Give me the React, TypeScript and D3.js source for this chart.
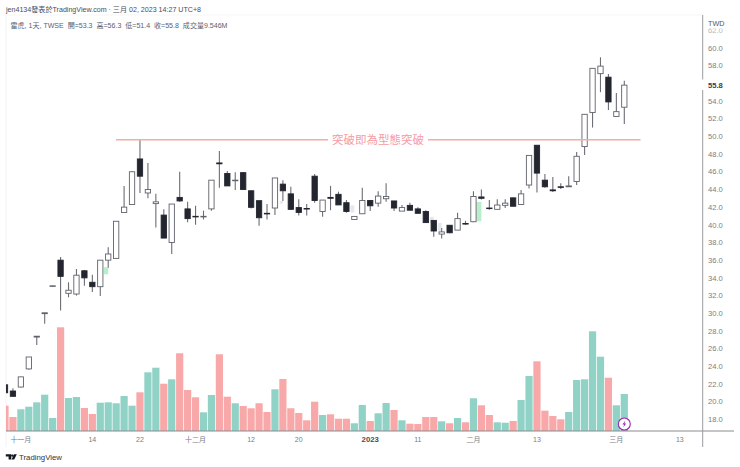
import React from 'react';
import * as d3 from 'd3';

const opens = [21.9, 21.2, 21.65, 23.7, 27.3, 29.95, 33.05, 36.0, 32.25, 32.17, 34.8, 33.5, 33.0, 36.0, 36.2, 41.4, 42.3, 47.45, 43.6, 42.4, 41.1, 38.0, 43.1, 41.8, 40.96, 40.9, 41.8, 47.0, 45.8, 45.0, 45.9, 43.85, 42.73, 41.3, 41.9, 44.6, 43.5, 41.95, 41.85, 45.5, 41.5, 43.1, 43.45, 42.5, 40.6, 41.25, 42.75, 42.45, 42.95, 42.7, 41.55, 42.2, 41.8, 41.5, 40.5, 38.95, 39.95, 39.4, 40.15, 40.35, 43.15, 41.9, 41.75, 42.2, 43.05, 42.3, 44.5, 49.0, 45.05, 43.95, 44.3, 44.3, 44.9, 48.85, 52.7, 57.1, 56.7, 52.25, 53.3];
const closes = [21.0, 20.6, 22.8, 25.05, 27.4, 30.05, 33.1, 34.17, 32.6, 34.3, 34.0, 33.0, 36.0, 36.7, 40.4, 42.0, 46.0, 45.5, 44.0, 42.6, 38.5, 42.35, 42.7, 40.7, 40.9, 40.96, 45.05, 46.9, 44.4, 45.05, 44.0, 41.98, 40.8, 41.25, 45.3, 43.85, 41.75, 41.4, 41.8, 42.75, 42.8, 43.0, 42.25, 41.5, 40.95, 42.75, 42.15, 43.25, 43.2, 41.9, 41.95, 41.65, 41.3, 40.25, 39.3, 39.2, 39.1, 40.7, 40.1, 43.2, 43.0, 41.85, 42.24, 42.45, 42.1, 43.5, 47.85, 45.85, 44.3, 43.85, 44.25, 44.4, 47.75, 52.5, 57.7, 57.95, 53.9, 52.8, 55.8];
const highs = [21.9, 21.5, 22.8, 25.05, 27.4, 30.05, 33.1, 36.36, 33.5, 35.0, 34.9, 34.35, 36.0, 37.45, 40.4, 44.4, 46.1, 49.6, 47.0, 43.5, 41.75, 42.35, 46.0, 42.6, 42.15, 41.6, 45.05, 48.35, 46.1, 45.95, 45.95, 43.85, 42.73, 42.35, 45.3, 45.05, 44.3, 42.9, 42.35, 45.75, 42.8, 44.4, 43.75, 42.8, 41.0, 44.2, 42.75, 43.8, 44.7, 42.7, 42.25, 42.5, 42.0, 41.65, 40.5, 39.65, 39.95, 41.35, 40.45, 43.8, 44.0, 42.8, 42.9, 42.9, 43.05, 43.95, 47.85, 49.0, 45.75, 45.4, 44.7, 45.5, 48.25, 52.5, 57.7, 58.95, 57.05, 54.9, 56.3];
const lows = [21.0, 20.6, 21.6, 23.6, 26.4, 28.8, 33.05, 30.3, 31.8, 32.0, 33.1, 32.4, 31.95, 35.15, 36.2, 41.4, 42.3, 43.6, 43.0, 39.7, 38.5, 36.7, 42.6, 40.3, 40.0, 40.6, 41.6, 44.2, 44.4, 43.95, 44.0, 41.85, 39.9, 40.6, 41.1, 42.7, 41.7, 41.05, 41.05, 42.5, 40.9, 41.65, 42.25, 41.35, 40.6, 41.25, 41.55, 42.05, 42.6, 41.55, 41.55, 41.65, 41.3, 40.2, 38.65, 38.45, 39.05, 39.4, 40.0, 40.3, 42.85, 41.7, 41.75, 41.9, 42.1, 42.3, 44.1, 43.65, 44.2, 43.7, 44.05, 44.3, 44.5, 47.9, 51.0, 55.0, 53.0, 52.25, 51.4];
const volumes = [6.53, 3.61, 5.6, 6.27, 7.4, 9.37, 3.35, 26.75, 8.51, 8.77, 5.93, 4.39, 7.3, 7.4, 7.15, 9.03, 6.53, 9.98, 15.14, 16.33, 12.2, 13.34, 20.05, 10.58, 8.69, 4.82, 9.29, 19.79, 8.85, 7.15, 6.45, 5.86, 7.15, 4.9, 10.76, 13.42, 5.86, 4.64, 2.76, 7.56, 4.13, 4.31, 3.17, 3.17, 1.99, 6.71, 2.58, 4.57, 7.22, 5.42, 2.76, 1.88, 1.81, 3.61, 3.61, 2.5, 1.99, 3.35, 2.24, 8.44, 6.63, 4.13, 2.24, 2.14, 2.58, 8.0, 14.19, 17.98, 5.24, 3.87, 3.02, 4.9, 13.16, 13.34, 25.72, 19.17, 13.75, 6.63, 9.546];

const priceTicks = [60, 58, 54, 52, 50, 48, 46, 44, 42, 40, 38, 36, 34, 32, 30, 28, 26, 24, 22, 20, 18];
const timeTicks: [number, string, boolean][] = [
  [2, '十一月', false], [11, '14', false], [17, '22', false], [24, '十二月', false],
  [31, '12', false], [37, '20', false], [46, '2023', true], [52, '11', false],
  [59, '二月', false], [67, '13', false], [77, '三月', false], [85, '13', false],
];
// [from bar, to bar, top price, bottom price]
const greenGaps = [[12.45, 13, 35.2, 34.4], [13.6, 14, 36.35, 36.15], [59.4, 60, 42.6, 40.4]];
const grayGaps = [[34.6, 35, 42.7, 42.4], [43.5, 44, 42.2, 41.4], [53.5, 54, 40.9, 40.2], [54.5, 55, 40.2, 39.3]];

const breakoutPrice = 49.63;
const lastPrice = 55.8;
const breakoutLabel = '突破即為型態突破';
const headerText = 'jen4134發表於TradingView.com · 三月 02, 2023 14:27 UTC+8';
const legendText = '雷虎, 1天, TWSE  開=53.3  高=56.3  低=51.4  收=55.8  成交量9.546M';

const FONT = '"Liberation Sans", "Noto Sans CJK TC", sans-serif';

export default function App() {
  const x = d3.scaleLinear().domain([0, 78]).range([5, 624.3]);
  const y = d3.scaleLinear().domain([18, 60]).range([419.3, 48]);
  const v = d3.scaleLinear().domain([0, 9.546]).range([431, 394]);
  const barW = 7.2;
  const bodyW = 5.3;

  return (
    <svg width={740} height={467} style={{ position: 'absolute', left: 0, top: 0, background: '#fff' }} fontFamily={FONT}>
      <defs>
        <clipPath id="pane"><rect x={6} y={15} width={697} height={416} /></clipPath>
      </defs>
      <line x1={6} x2={6} y1={15} y2={447} stroke="#f2f3f5" />
      <line x1={6} x2={703} y1={15} y2={15} stroke="#f4f5f7" />

      <text x={6} y={11.5} fontSize={7.1} fill="#4a4d55">{headerText}</text>
      <text x={10.5} y={27.5} fontSize={7.05} fill="#5d606b" xmlSpace="preserve">{legendText}</text>

      <g clipPath="url(#pane)">
        {volumes.map((d, i) => (
          <rect key={i} x={x(i) - barW / 2} y={v(d)} width={barW} height={431 - v(d)}
            fill={closes[i] < opens[i] ? '#f8a8a8' : '#90d2c6'} />
        ))}
        {greenGaps.map((g, i) => (
          <rect key={i} x={x(g[0])} y={y(g[2])} width={x(g[1]) - x(g[0])} height={y(g[3]) - y(g[2])} fill="#b5f0cb" />
        ))}
        {grayGaps.map((g, i) => (
          <rect key={i} x={x(g[0])} y={y(g[2])} width={x(g[1]) - x(g[0])} height={y(g[3]) - y(g[2])} fill="#e6e9ea" />
        ))}
        {opens.map((o, i) => {
          const top = y(Math.max(o, closes[i]));
          const bot = y(Math.min(o, closes[i]));
          const down = closes[i] < o;
          return (
            <g key={i}>
              <line x1={x(i)} x2={x(i)} y1={y(highs[i])} y2={y(lows[i])} stroke="#6b6e76" strokeWidth={1.1} />
              <rect x={x(i) - bodyW / 2} y={top} width={bodyW} height={Math.max(bot - top, 0.6)}
                fill={down ? '#23262f' : '#fff'} stroke={down ? '#23262f' : '#5f626a'} strokeWidth={0.9} />
            </g>
          );
        })}
      </g>

      <line x1={116} x2={328} y1={y(breakoutPrice)} y2={y(breakoutPrice)} stroke="#f4aca5" strokeWidth={1.5} />
      <line x1={428} x2={640.5} y1={y(breakoutPrice)} y2={y(breakoutPrice)} stroke="#f4aca5" strokeWidth={1.5} />
      <text x={378} y={y(breakoutPrice) + 4.2} textAnchor="middle" fontSize={11.5} fill="#f59ca5">{breakoutLabel}</text>

      <line x1={6} x2={734} y1={431} y2={431} stroke="#8a8c90" strokeWidth={1} />
      <line x1={702.7} x2={702.7} y1={15} y2={79.5} stroke="#9a9c9f" strokeWidth={1} />
      <line x1={702.7} x2={702.7} y1={90} y2={447} stroke="#9a9c9f" strokeWidth={1} />

      {priceTicks.map(t => (
        <text key={t} x={708} y={y(t) + 2.7} fontSize={7.6} fill="#7a7d85">{d3.format('.1f')(t)}</text>
      ))}
      <text x={708} y={33} fontSize={7.6} fill="#b4b6bb">62.0</text>
      <rect x={704} y={16} width={30} height={12.5} fill="#fff" />
      <text x={708} y={25.5} fontSize={7.2} fill="#50535c">TWD</text>
      <text x={708} y={y(lastPrice) + 2.7} fontSize={7.6} fontWeight={600} fill="#3a3d45">{d3.format('.1f')(lastPrice)}</text>

      {timeTicks.map(([i, label, bold]) => (
        <text key={i} x={x(i)} y={442} textAnchor="middle" fontSize={bold ? 7.8 : 7} fontWeight={bold ? 700 : 400}
          fill={bold ? '#4a4d55' : '#7a7d85'}>{label}</text>
      ))}

      <circle cx={624.3} cy={424} r={6} fill="#fff" stroke="#9c27b0" strokeWidth={1.1} />
      <path d="M625.4 420.6 L622.4 424.4 L624.2 424.4 L623.2 427.4 L626.2 423.6 L624.4 423.6 Z" fill="#9c27b0" />

      <g fill="#131722">
        <path d="M5.8 454.3 H11.3 V459.5 H8.6 V456.6 H5.8 Z" />
        <circle cx={12.4} cy={455.6} r={1.2} />
        <path d="M14 454.3 H16.8 L14.2 459.5 H11.6 Z" />
      </g>
      <text x={19} y={460} fontSize={7.8} fill="#30333b">TradingView</text>
    </svg>
  );
}
